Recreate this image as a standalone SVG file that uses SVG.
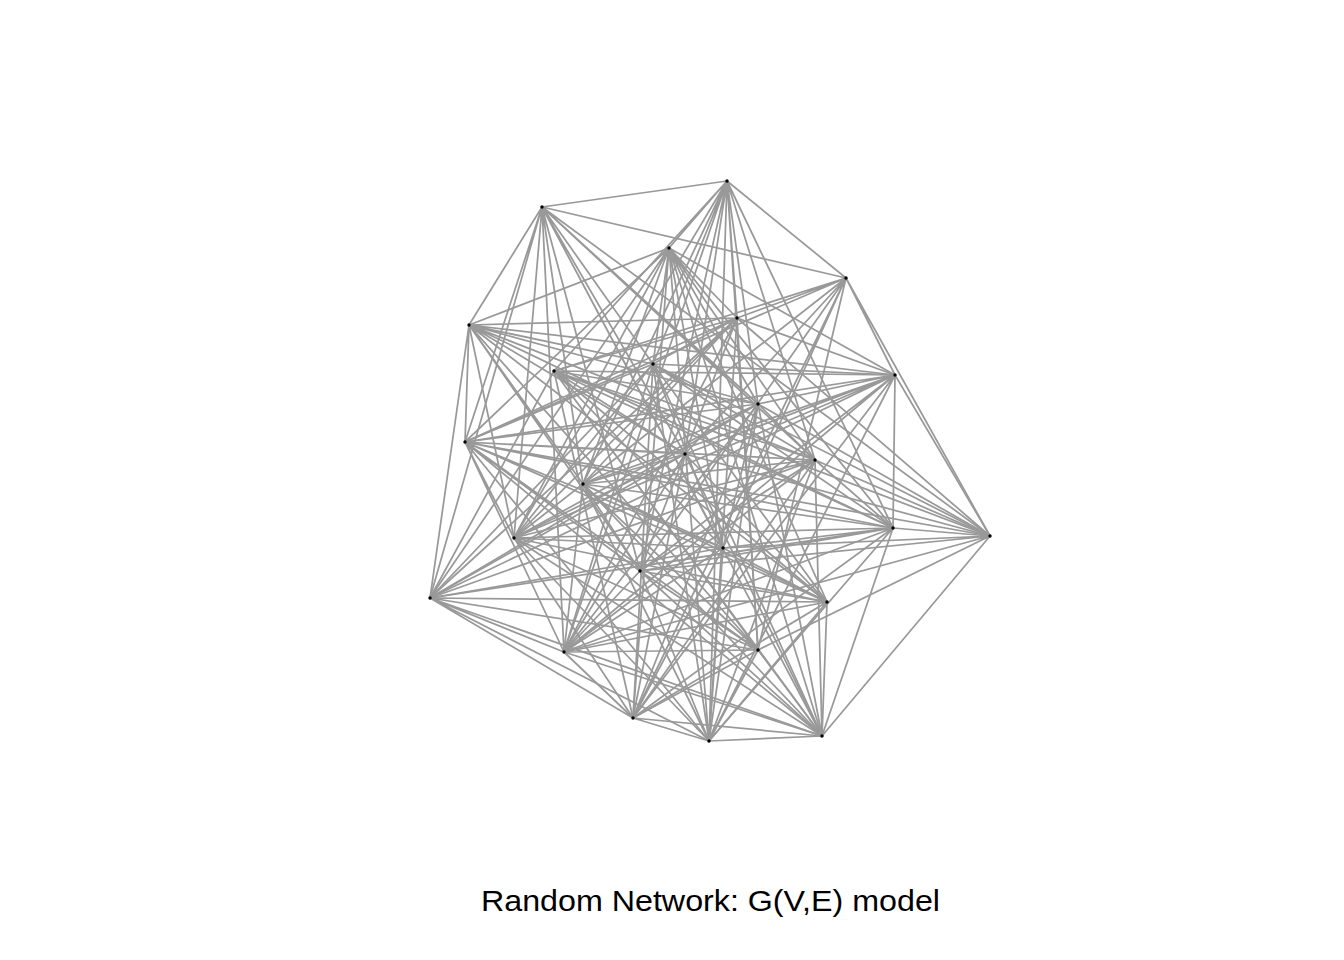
<svg xmlns="http://www.w3.org/2000/svg" width="1344" height="960" viewBox="0 0 1344 960">
<style>
.e{stroke:#999999;stroke-width:1.75;fill:none}
.n{fill:#000}
.t{font-family:"Liberation Sans",Arial,sans-serif;font-size:30px;fill:#000}
</style>
<rect width="1344" height="960" fill="#fff"/>
<g id="edges" class="e">
<path d="M727,181L542,207M727,181L669,248M727,181L846,278M727,181L737,318M727,181L554,371M727,181L653,364M727,181L758,404M727,181L685,454M727,181L815,460M727,181L583,484M727,181L893,528M727,181L514,538M727,181L640,571M727,181L564,652M727,181L758,650M727,181L709,741"/>
<path d="M542,207L846,278M542,207L469,325M542,207L653,364M542,207L758,404M542,207L465,442M542,207L685,454M542,207L815,460M542,207L583,484M542,207L990,536M542,207L514,538M542,207L723,548M542,207L640,571M542,207L430,598M542,207L564,652M542,207L822,736"/>
<path d="M669,248L469,325M669,248L737,318M669,248L653,364M669,248L895,375M669,248L758,404M669,248L465,442M669,248L815,460M669,248L583,484M669,248L893,528M669,248L514,538M669,248L723,548M669,248L430,598M669,248L827,602M669,248L633,718M669,248L709,741M669,248L822,736"/>
<path d="M846,278L737,318M846,278L554,371M846,278L895,375M846,278L465,442M846,278L685,454M846,278L583,484M846,278L990,536M846,278L514,538M846,278L723,548M846,278L640,571M846,278L758,650M846,278L633,718"/>
<path d="M469,325L737,318M469,325L653,364M469,325L895,375M469,325L758,404M469,325L465,442M469,325L685,454M469,325L815,460M469,325L583,484M469,325L893,528M469,325L514,538M469,325L640,571M469,325L430,598M469,325L827,602M469,325L758,650"/>
<path d="M737,318L554,371M737,318L653,364M737,318L895,375M737,318L465,442M737,318L685,454M737,318L583,484M737,318L990,536M737,318L514,538M737,318L640,571M737,318L430,598M737,318L564,652M737,318L758,650M737,318L709,741"/>
<path d="M554,371L895,375M554,371L758,404M554,371L685,454M554,371L815,460M554,371L893,528M554,371L990,536M554,371L723,548M554,371L430,598M554,371L827,602M554,371L758,650M554,371L633,718M554,371L822,736"/>
<path d="M653,364L895,375M653,364L465,442M653,364L815,460M653,364L893,528M653,364L990,536M653,364L514,538M653,364L723,548M653,364L430,598M653,364L827,602M653,364L564,652M653,364L633,718M653,364L709,741M653,364L822,736"/>
<path d="M895,375L758,404M895,375L465,442M895,375L685,454M895,375L583,484M895,375L893,528M895,375L990,536M895,375L514,538M895,375L640,571M895,375L430,598M895,375L564,652M895,375L633,718M895,375L709,741"/>
<path d="M758,404L465,442M758,404L815,460M758,404L583,484M758,404L990,536M758,404L514,538M758,404L723,548M758,404L430,598M758,404L564,652M758,404L633,718M758,404L709,741M758,404L822,736"/>
<path d="M465,442L685,454M465,442L815,460M465,442L893,528M465,442L990,536M465,442L514,538M465,442L723,548M465,442L640,571M465,442L827,602M465,442L564,652M465,442L758,650M465,442L709,741M465,442L822,736"/>
<path d="M685,454L583,484M685,454L990,536M685,454L514,538M685,454L430,598M685,454L827,602M685,454L564,652M685,454L633,718M685,454L822,736"/>
<path d="M815,460L583,484M815,460L893,528M815,460L990,536M815,460L514,538M815,460L640,571M815,460L430,598M815,460L564,652M815,460L633,718M815,460L709,741M815,460L822,736"/>
<path d="M583,484L893,528M583,484L723,548M583,484L640,571M583,484L827,602M583,484L564,652M583,484L758,650M583,484L709,741M583,484L822,736"/>
<path d="M893,528L990,536M893,528L514,538M893,528L723,548M893,528L640,571M893,528L430,598M893,528L564,652M893,528L633,718M893,528L709,741M893,528L822,736"/>
<path d="M990,536L723,548M990,536L640,571M990,536L564,652M990,536L758,650M990,536L822,736"/>
<path d="M514,538L723,548M514,538L827,602M514,538L758,650M514,538L633,718M514,538L709,741M514,538L822,736"/>
<path d="M723,548L430,598M723,548L827,602M723,548L564,652M723,548L633,718M723,548L709,741"/>
<path d="M640,571L827,602M640,571L564,652M640,571L758,650M640,571L709,741M640,571L822,736"/>
<path d="M430,598L827,602M430,598L564,652M430,598L758,650M430,598L633,718M430,598L709,741M430,598L822,736"/>
<path d="M827,602L564,652M827,602L633,718M827,602L709,741M827,602L822,736"/>
<path d="M564,652L758,650M564,652L633,718M564,652L822,736"/>
<path d="M758,650L633,718M758,650L709,741M758,650L822,736"/>
<path d="M633,718L709,741M633,718L822,736"/>
<path d="M709,741L822,736"/>
</g>
<g id="nodes" class="n">
<circle id="n1" cx="727" cy="181" r="1.7"/>
<circle id="n2" cx="542" cy="207" r="1.7"/>
<circle id="n3" cx="669" cy="248" r="1.7"/>
<circle id="n4" cx="846" cy="278" r="1.7"/>
<circle id="n5" cx="469" cy="325" r="1.7"/>
<circle id="n6" cx="737" cy="318" r="1.7"/>
<circle id="n7" cx="554" cy="371" r="1.7"/>
<circle id="n8" cx="653" cy="364" r="1.7"/>
<circle id="n9" cx="895" cy="375" r="1.7"/>
<circle id="n10" cx="758" cy="404" r="1.7"/>
<circle id="n11" cx="465" cy="442" r="1.7"/>
<circle id="n12" cx="685" cy="454" r="1.7"/>
<circle id="n13" cx="815" cy="460" r="1.7"/>
<circle id="n14" cx="583" cy="484" r="1.7"/>
<circle id="n15" cx="893" cy="528" r="1.7"/>
<circle id="n16" cx="990" cy="536" r="1.7"/>
<circle id="n17" cx="514" cy="538" r="1.7"/>
<circle id="n18" cx="723" cy="548" r="1.7"/>
<circle id="n19" cx="640" cy="571" r="1.7"/>
<circle id="n20" cx="430" cy="598" r="1.7"/>
<circle id="n21" cx="827" cy="602" r="1.7"/>
<circle id="n22" cx="564" cy="652" r="1.7"/>
<circle id="n23" cx="758" cy="650" r="1.7"/>
<circle id="n24" cx="633" cy="718" r="1.7"/>
<circle id="n25" cx="709" cy="741" r="1.7"/>
<circle id="n26" cx="822" cy="736" r="1.7"/>
</g>
<text class="t" x="481" y="911" textLength="459" lengthAdjust="spacingAndGlyphs">Random Network: G(V,E) model</text>
</svg>
